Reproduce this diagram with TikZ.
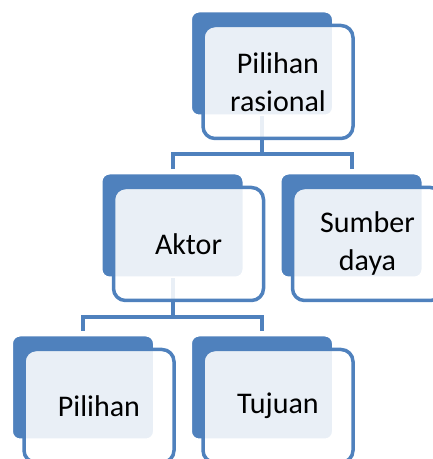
\documentclass[tikz,border=0pt]{standalone}
\usepackage{fontspec}
\setmainfont{Carlito}
\usetikzlibrary{positioning}

\definecolor{boxblue}{HTML}{4F81BD}

\tikzset{
  backbox/.style={fill=boxblue, draw=white, line width=2pt, rounded corners=8pt,
    minimum width=142pt, minimum height=104pt, inner sep=0pt},
  frontbox/.style={fill=white, fill opacity=0.88, text opacity=1, draw=boxblue, draw opacity=1,
    line width=3.5pt, rounded corners=12pt, minimum width=150pt, minimum height=113pt,
    inner sep=0pt, align=center, font=\fontsize{30}{38}\selectfont, xshift=16pt, yshift=-18.5pt},
  conn/.style={draw=boxblue, line width=4pt, shorten >=3pt}
}

\begin{document}
\begin{tikzpicture}[x=1pt, y=1pt]

\useasboundingbox (0,0) rectangle (433,459) ;
\clip (0,0) rectangle (433,459) ;

\node[backbox] (rasional-bg) at (262.0, 395.5) {} ;
\node[backbox] (aktor-bg)    at (172.5, 233.5) {} ;
\node[backbox] (sumber-bg)   at (351.5, 233.5) {} ;
\node[backbox] (pilihan-bg)  at ( 83.0,  71.5) {} ;
\node[backbox] (tujuan-bg)   at (262.0,  71.5) {} ;

\draw[conn] (rasional-bg.south) -- ++(0,-38) -| (aktor-bg.north) ;
\draw[conn] (rasional-bg.south) -- ++(0,-38) -| (sumber-bg.north) ;
\draw[conn] (aktor-bg.south) -- ++(0,-39) -| (pilihan-bg.north) ;
\draw[conn] (aktor-bg.south) -- ++(0,-39) -| (tujuan-bg.north) ;

\node[frontbox] (rasional) at (rasional-bg) {Pilihan\\rasional} ;
\node[frontbox] (aktor)    at (aktor-bg)    {Aktor} ;
\node[frontbox] (sumber)   at (sumber-bg)   {Sumber\\daya} ;
\node[frontbox] (pilihan)  at (pilihan-bg)  {Pilihan} ;
\node[frontbox] (tujuan)   at (tujuan-bg)   {Tujuan} ;

\end{tikzpicture}
\end{document}
